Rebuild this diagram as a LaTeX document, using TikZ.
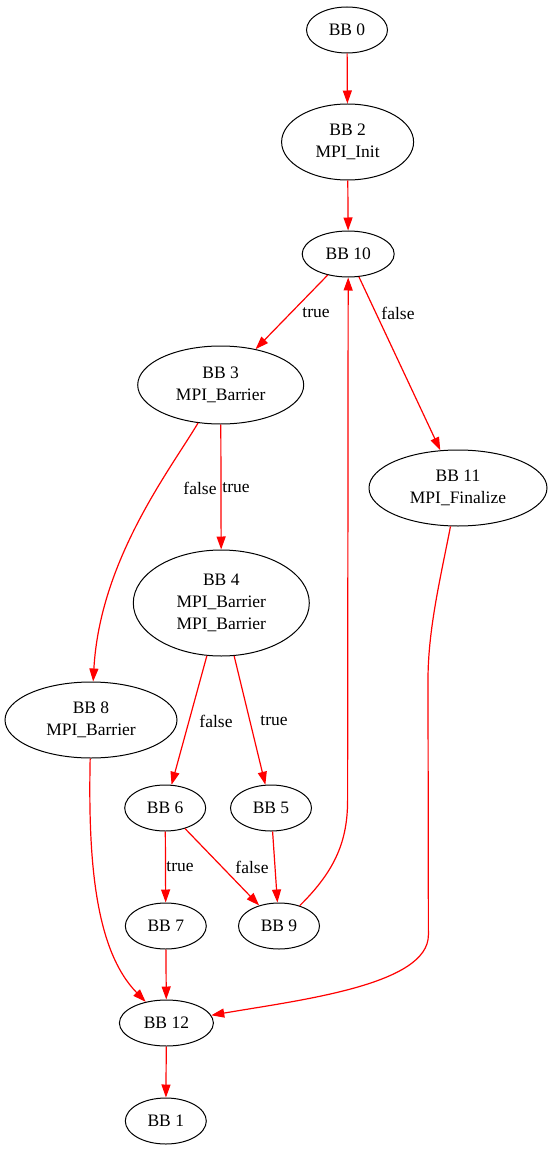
\documentclass[tikz,border=0pt]{standalone}
\usepackage{fontspec}
\setmainfont{Liberation Serif}
\usetikzlibrary{shapes.geometric, arrows.meta, positioning}

\begin{document}
\begin{tikzpicture}[
    x=1pt, y=-1pt,
    bb/.style    = {ellipse, draw, line width=1pt, inner sep=0pt, align=center,
                    font=\fontsize{17.5}{22}\selectfont},
    edge/.style  = {-{Triangle[length=13pt, width=9pt]}, red, line width=1.2pt},
    lbl/.style   = {font=\fontsize{17.5}{20}\selectfont, inner sep=1pt},
  ]
  \useasboundingbox (0,0) rectangle (552,1150);

  \node[bb, minimum width=81, minimum height=46]  (bb0)  at (347,30)     {BB 0};
  \node[bb, minimum width=132, minimum height=76] (bb2)  at (347.6,142)  {BB 2\\MPI\_Init};
  \node[bb, minimum width=92, minimum height=46]  (bb10) at (348.2,254)  {BB 10};
  \node[bb, minimum width=166, minimum height=78] (bb3)  at (220.7,385)  {BB 3\\MPI\_Barrier};
  \node[bb, minimum width=178, minimum height=76] (bb11) at (458,488)    {BB 11\\MPI\_Finalize};
  \node[bb, minimum width=176, minimum height=106](bb4)  at (221.3,603)  {BB 4\\MPI\_Barrier\\MPI\_Barrier};
  \node[bb, minimum width=172, minimum height=76] (bb8)  at (91,720)     {BB 8\\MPI\_Barrier};
  \node[bb, minimum width=81, minimum height=46]  (bb6)  at (165.2,808)  {BB 6};
  \node[bb, minimum width=81, minimum height=46]  (bb5)  at (271,808)    {BB 5};
  \node[bb, minimum width=81, minimum height=46]  (bb7)  at (165.8,926)  {BB 7};
  \node[bb, minimum width=81, minimum height=46]  (bb9)  at (279,926)    {BB 9};
  \node[bb, minimum width=94, minimum height=46]  (bb12) at (166.4,1023) {BB 12};
  \node[bb, minimum width=81, minimum height=46]  (bb1)  at (165.8,1121) {BB 1};

  % branch labels
  \node[lbl] (l10t) at (316,313) {true};
  \node[lbl] (l10f) at (398,313) {false};
  \node[lbl] (l3f)  at (200,488) {false};
  \node[lbl] (l3t)  at (236,488) {true};
  \node[lbl] (l4f)  at (216,721) {false};
  \node[lbl] (l4t)  at (274,721) {true};
  \node[lbl] (l6t)  at (180,867) {true};
  \node[lbl] (l6f)  at (252,867) {false};

  % bend points of the long edges
  \coordinate (back9)  at (347.6,800);
  \coordinate (fin11a) at (428,680);
  \coordinate (fin11b) at (428.4,935);

  \draw[edge] (bb0)  -- (bb2);
  \draw[edge] (bb2)  -- (bb10);
  \draw[edge] (bb10) -- (bb3);
  \draw[edge] (bb10) -- (bb11);
  \draw[edge] (bb3)  .. controls (170,470) and (100,560) .. (bb8);
  \draw[edge] (bb3)  -- (bb4);
  \draw[edge] (bb4)  -- (bb6);
  \draw[edge] (bb4)  -- (bb5);
  \draw[edge] (bb6)  -- (bb7);
  \draw[edge] (bb6)  -- (bb9);
  \draw[edge] (bb5)  -- (bb9);
  \draw[edge] (bb9)  .. controls (336,870) and (347.6,840) .. (back9) -- (bb10);
  \draw[edge] (bb7)  -- (bb12);
  \draw[edge] (bb8)  .. controls (88,860) and (95,950) .. (bb12);
  \draw[edge] (bb11) .. controls (440,580) and (428,630) .. (fin11a) -- (fin11b)
              .. controls (428.4,985) and (300,1000) .. (bb12);
  \draw[edge] (bb12) -- (bb1);
\end{tikzpicture}
\end{document}
